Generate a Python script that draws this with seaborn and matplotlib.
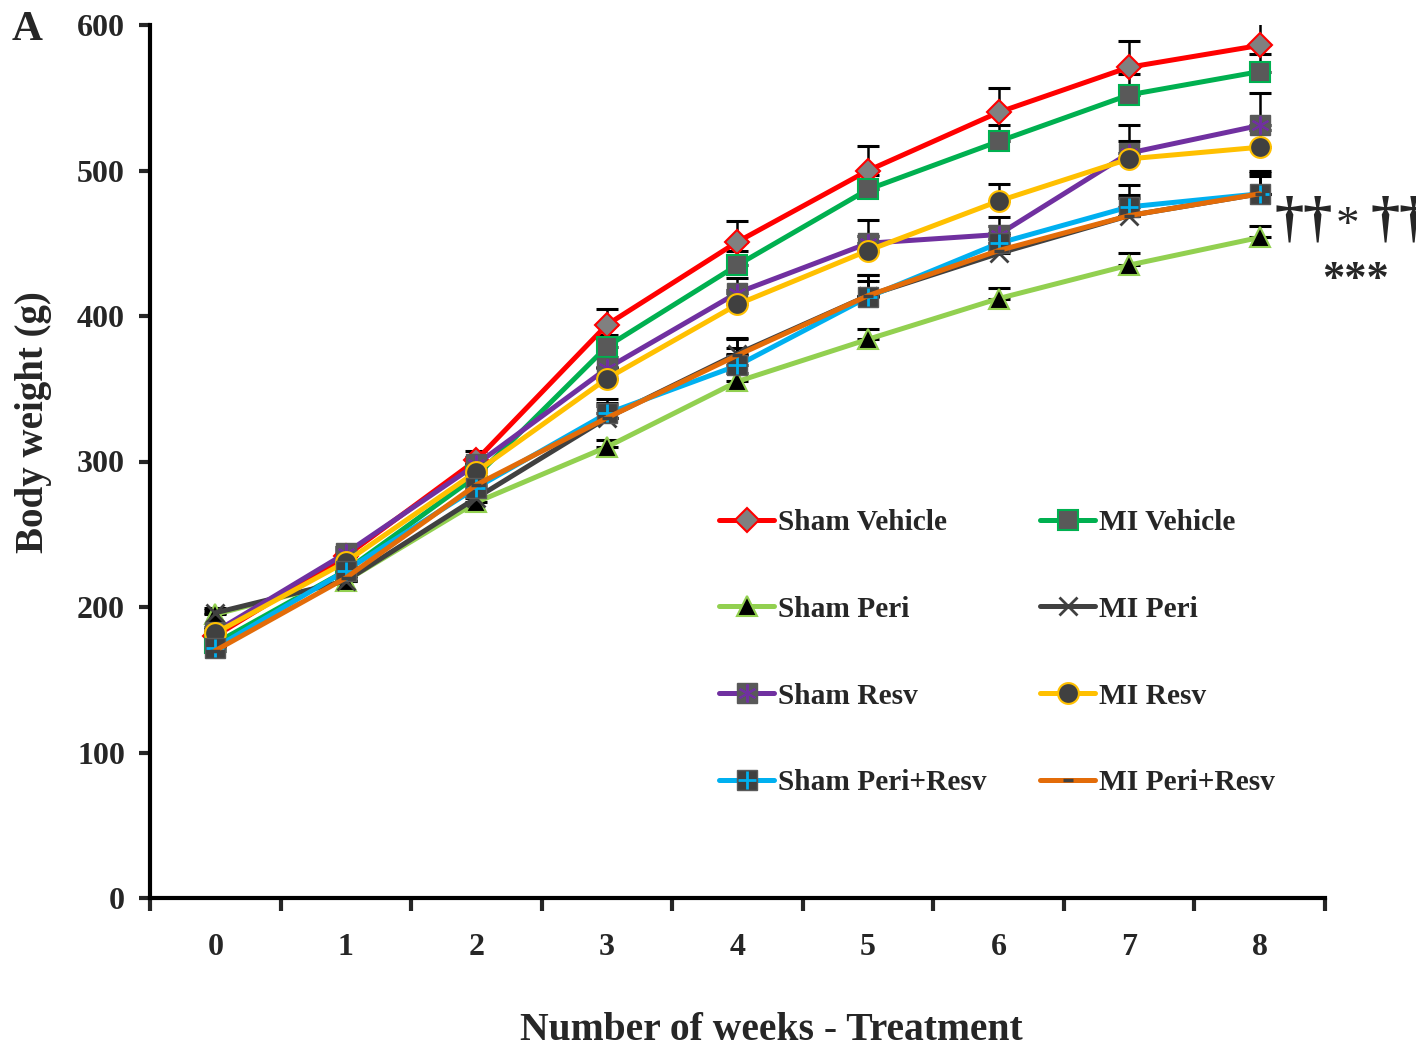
import numpy as np
import pandas as pd
import matplotlib
matplotlib.use("Agg")
import matplotlib.pyplot as plt
import seaborn as sns
from matplotlib.lines import Line2D
from matplotlib.legend_handler import HandlerTuple

weeks = [0, 1, 2, 3, 4, 5, 6, 7, 8]

sham_vehicle = [180, 235, 301, 394, 451, 500, 540, 571, 586]
mi_vehicle = [175, 225, 290, 379, 435, 487, 520, 552, 568]
sham_peri = [195, 218, 272, 310, 355, 384, 412, 435, 454]
mi_peri = [196, 218, 275, 330, 374, 414, 443, 469, 484]
sham_resv = [183, 237, 298, 364, 416, 450, 456, 512, 531]
mi_resv = [182, 231, 293, 357, 408, 445, 479, 508, 516]
sham_peri_resv = [172, 225, 282, 333, 366, 413, 450, 475, 484]
mi_peri_resv = [170, 220, 284, 330, 373, 414, 445, 469, 484]

err_sham_vehicle = [3, 4, 6, 11, 14, 17, 17, 18, 20]
err_mi_vehicle = [3, 4, 5, 8, 10, 10, 11, 14, 12]
err_sham_peri = [3, 3, 4, 5, 6, 7, 7, 8, 8]
err_mi_peri = [3, 4, 5, 8, 10, 10, 10, 12, 12]
err_sham_resv = [3, 4, 5, 8, 10, 16, 12, 19, 22]
err_mi_resv = [3, 4, 5, 8, 10, 10, 12, 12, 12]
err_sham_peri_resv = [3, 4, 5, 10, 12, 15, 12, 15, 16]
err_mi_peri_resv = [3, 4, 5, 10, 12, 14, 12, 14, 14]

labels = ["Sham Vehicle", "MI Vehicle", "Sham Peri", "MI Peri",
          "Sham Resv", "MI Resv", "Sham Peri+Resv", "MI Peri+Resv"]
values = [sham_vehicle, mi_vehicle, sham_peri, mi_peri,
          sham_resv, mi_resv, sham_peri_resv, mi_peri_resv]
errors = [err_sham_vehicle, err_mi_vehicle, err_sham_peri, err_mi_peri,
          err_sham_resv, err_mi_resv, err_sham_peri_resv, err_mi_peri_resv]
yticks = [0, 100, 200, 300, 400, 500, 600]

styles = {
    "Sham Vehicle": dict(color="#FF0000", marker="D", mfc="#808080", mec="#FF0000", ms=12, mew=1.5),
    "MI Vehicle": dict(color="#00B050", marker="s", mfc="#595959", mec="#00B050", ms=14, mew=1.5),
    "Sham Peri": dict(color="#92D050", marker="^", mfc="#000000", mec="#92D050", ms=14, mew=1.5),
    "MI Peri": dict(color="#404040", marker="x", mfc="#404040", mec="#404040", ms=13, mew=2),
    "Sham Resv": dict(color="#7030A0", marker="s", mfc="#595959", mec="#595959", ms=14, mew=1),
    "MI Resv": dict(color="#FFC000", marker="o", mfc="#404040", mec="#FFC000", ms=15, mew=1.5),
    "Sham Peri+Resv": dict(color="#00B0F0", marker="s", mfc="#404040", mec="#595959", ms=14, mew=1),
    "MI Peri+Resv": dict(color="#E36C09", marker="_", mfc="#404040", mec="#404040", ms=7, mew=2.5),
}
overlays = {
    "Sham Resv": dict(marker=(6, 2, 0), color="#7030A0", ms=13, mew=1.5),
    "Sham Peri+Resv": dict(marker="+", color="#00B0F0", ms=13, mew=2),
}

sns.set_theme(style="white")
plt.rcParams["font.family"] = ["Liberation Serif", "DejaVu Serif"]
plt.rcParams["font.weight"] = "bold"

fig = plt.figure(figsize=(14.16, 10.51), dpi=100)
ax = fig.add_axes([150 / 1416, 1 - 898 / 1051, 1175 / 1416, 873 / 1051])

handles = []
for i, (lab, vals, errs) in enumerate(zip(labels, values, errors)):
    st = styles[lab]
    ax.errorbar(weeks, vals, yerr=[np.zeros(len(errs)), errs], fmt="none",
                ecolor="black", elinewidth=1.8, capsize=8, capthick=2.2, zorder=2 + i * 0.1)
    df = pd.DataFrame({"week": weeks, "bw": vals})
    sns.lineplot(data=df, x="week", y="bw", ax=ax, color=st["color"], linewidth=3.6,
                 marker=st["marker"], markerfacecolor=st["mfc"], markeredgecolor=st["mec"],
                 markersize=st["ms"], markeredgewidth=st["mew"], zorder=3 + i * 0.1,
                 errorbar=None, legend=False)
    h = Line2D([], [], color=st["color"], linewidth=3.6, marker=st["marker"],
               markerfacecolor=st["mfc"], markeredgecolor=st["mec"],
               markersize=st["ms"], markeredgewidth=st["mew"])
    if lab in overlays:
        ov = overlays[lab]
        ax.plot(weeks, vals, linestyle="none", marker=ov["marker"], color=ov["color"],
                markersize=ov["ms"], markeredgewidth=ov["mew"], zorder=3.05 + i * 0.1)
        h2 = Line2D([], [], linestyle="none", marker=ov["marker"], color=ov["color"],
                    markersize=ov["ms"], markeredgewidth=ov["mew"])
        handles.append((h, h2))
    else:
        handles.append(h)

ax.set_xlim(-0.5, 8.5)
ax.set_ylim(0, 600)
ax.set_xticks(weeks)
ax.set_xticklabels([str(w) for w in weeks])
ax.set_xticks(np.arange(-0.5, 9.0, 1.0), minor=True)
ax.set_yticks(yticks)
ax.set_yticklabels([str(v) for v in yticks])
ax.tick_params(axis="x", which="major", length=0, pad=25, labelsize=23)
ax.tick_params(axis="x", which="minor", length=9, width=3, direction="out", bottom=True)
ax.tick_params(axis="y", which="major", length=8, width=3, direction="out", left=True,
               pad=10, labelsize=23)
for lbl in ax.get_xticklabels() + ax.get_yticklabels():
    lbl.set_fontweight("bold")

for sp in ["top", "right"]:
    ax.spines[sp].set_visible(False)
for sp in ["left", "bottom"]:
    ax.spines[sp].set_linewidth(3)
    ax.spines[sp].set_color("black")
ax.grid(False)

ax.set_xlabel("Number of weeks - Treatment", fontsize=28.5, fontweight="bold")
ax.xaxis.set_label_coords((771 - 150) / 1175, -(1012 - 898) / 873)
ax.set_ylabel("Body weight (g)", fontsize=28, fontweight="bold")
ax.yaxis.set_label_coords((52 - 150) / 1175, (898 - 422) / 873)

order = [0, 2, 4, 6, 1, 3, 5, 7]
leg = ax.legend([handles[k] for k in order], [labels[k] for k in order], ncol=2,
                loc="upper left",
                bbox_to_anchor=((719 - 150) / 1175, (898 - 509) / 873),
                frameon=False, prop=dict(family="Liberation Serif", weight="bold", size=21.2),
                handlelength=1.87, handletextpad=0.15, columnspacing=1.8, labelspacing=2.03,
                borderpad=0, borderaxespad=0,
                handler_map={tuple: HandlerTuple(ndivide=1, pad=0)})

fig.text(12 / 1416, 1 - 30 / 1051, "A", fontsize=31, fontweight="bold", va="center", ha="left")
fig.text(1274 / 1416, 1 - 222 / 1051, "††", fontsize=42, fontweight="bold",
         va="center", ha="left")
fig.text(1347 / 1416, 1 - 227 / 1051, "*", fontsize=34, fontweight="normal",
         va="center", ha="center")
fig.text(1370 / 1416, 1 - 222 / 1051, "††", fontsize=42, fontweight="bold",
         va="center", ha="left")
fig.text(1322 / 1416, 1 - 280 / 1051, "***", fontsize=32, fontweight="bold",
         va="center", ha="left")

fig.savefig("out.png", dpi=100)
